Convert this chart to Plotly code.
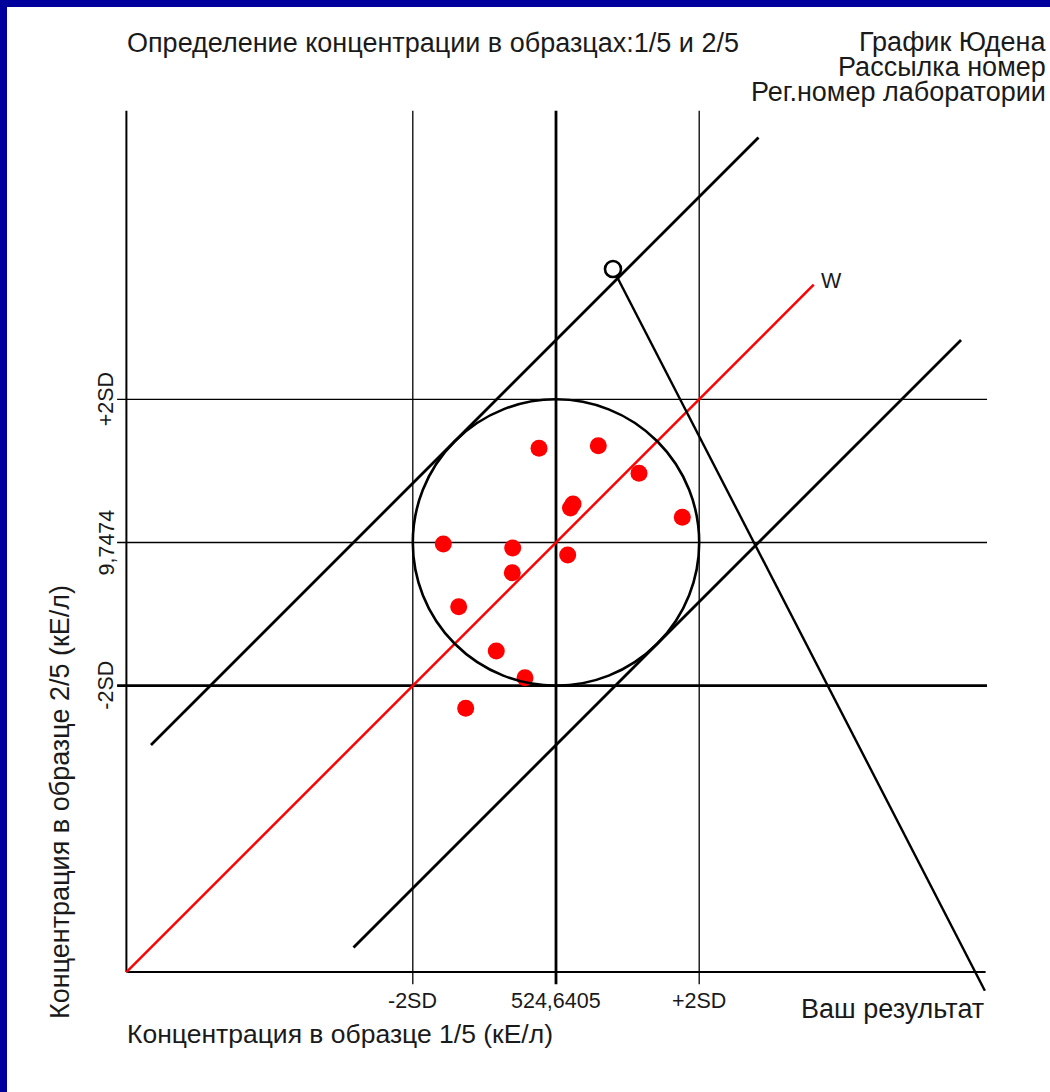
import math
import plotly.graph_objects as go

FIG_W, FIG_H = 1050, 1092

# Assigned values and standard deviations for the two samples (kE/l)
MEAN_X = 524.6405   # sample 1/5
MEAN_Y = 9.7474     # sample 2/5
SD_X = 25.0
SD_Y = 0.5

# Results of the participating laboratories (kE/l)
lab_x = [518.71, 539.41, 553.62, 530.58, 529.70, 568.74, 485.29,
         509.52, 528.73, 509.38, 490.67, 503.79, 513.82, 493.11]
lab_y = [10.405, 10.423, 10.231, 10.016, 9.988, 9.923, 9.737,
         9.709, 9.660, 9.536, 9.299, 8.990, 8.803, 8.590]

# Result of this laboratory
own_x = [544.54]
own_y = [11.657]

x_tick_text = ["-2SD", "524,6405", "+2SD"]
y_tick_text = ["-2SD", "9,7474", "+2SD"]
sd_levels = [-2, 0, 2]

# ---- layout helpers -------------------------------------------------------
PX_PER_SD = 71.6          # screen pixels per standard deviation
CX, CY = 556.0, 542.5     # screen position of the assigned values
AX_LO, AX_HI = -6.0, 6.03  # drawn axis extent, in SD


def gx(k):
    return MEAN_X + k * SD_X


def gy(k):
    return MEAN_Y + k * SD_Y


def px(x):
    return x / FIG_W


def py(y):
    return 1 - y / FIG_H


x_range = [gx((0 - CX) / PX_PER_SD), gx((FIG_W - CX) / PX_PER_SD)]
y_range = [gy((CY - FIG_H) / PX_PER_SD), gy(CY / PX_PER_SD)]

BLACK = "#000000"
TEXT = "#1a1a1a"
FONT = "Liberation Sans, Arial, sans-serif"
BIG = 27
SMALL = 21.5

fig = go.Figure()


def seg(xs, ys, width, color=BLACK):
    fig.add_trace(go.Scatter(x=xs, y=ys, mode="lines",
                             line=dict(color=color, width=width),
                             hoverinfo="skip", showlegend=False))


# axes
seg([gx(AX_LO), gx(AX_LO)], [gy(AX_LO), gy(AX_HI)], 2)
seg([gx(AX_LO), gx(6.0)], [gy(AX_LO), gy(AX_LO)], 2)

# mean and +/-2SD reference lines
for k in sd_levels:
    w_v = 2.8 if k == 0 else 1.3
    w_h = 2.8 if k == -2 else 1.3
    seg([gx(k), gx(k)], [gy(-6.17), gy(AX_HI)], w_v)
    seg([gx(-6.13), gx(6.02)], [gy(k), gy(k)], w_h)

# lines tangent to the 2SD circle, parallel to the diagonal
r2 = 2 * math.sqrt(2)
seg([gx(-2 * r2), gx(r2)], [gy(-2 * r2 + r2), gy(r2 + r2)], 2.8)
seg([gx(-r2), gx(2 * r2)], [gy(-r2 - r2), gy(2 * r2 - r2)], 2.8)

# diagonal W
W_END = 3.6
seg([gx(AX_LO), gx(W_END)], [gy(AX_LO), gy(W_END)], 2.5, "#ff0000")

# pointer from own result to the caption
seg([own_x[0], gx(5.99)], [own_y[0], gy(-6.26)], 2.4)

# 2SD circle
fig.add_shape(type="circle", xref="x", yref="y",
              x0=gx(-2), x1=gx(2), y0=gy(-2), y1=gy(2),
              line=dict(color=BLACK, width=2.6), layer="above")

# participants
fig.add_trace(go.Scatter(x=lab_x, y=lab_y, mode="markers",
                         marker=dict(color="#ff0000", size=17, line=dict(width=0)),
                         hoverinfo="x+y", showlegend=False))

# own result
fig.add_trace(go.Scatter(x=own_x, y=own_y, mode="markers",
                         marker=dict(color="white", size=16, symbol="circle",
                                     line=dict(color=BLACK, width=2.6)),
                         hoverinfo="x+y", showlegend=False))

# ---- text -----------------------------------------------------------------
ann = []


def text(s, x, y, size=BIG, xanchor="left", yanchor="middle", angle=0,
         xref="paper", yref="paper"):
    ann.append(dict(text=s, x=x, y=y, xref=xref, yref=yref, showarrow=False,
                    xanchor=xanchor, yanchor=yanchor, textangle=angle,
                    font=dict(family=FONT, size=size, color=TEXT)))


text("Определение концентрации в образцах:1/5 и 2/5", px(125), py(43))
text("График Юдена", px(1048), py(42), xanchor="right")
text("Рассылка номер", px(1048), py(67), xanchor="right")
text("Рег.номер лаборатории", px(1048), py(92), xanchor="right")

text("Концентрация в образце 1/5 (кЕ/л)", px(125), py(1034), size=26.5)
text("Концентрация в образце 2/5 (кЕ/л)", px(60), py(1021),
     xanchor="center", yanchor="bottom", angle=-90)
text("Ваш результат", px(799), py(1009))

for k, s in zip(sd_levels, x_tick_text):
    text(s, gx(k), py(1001), size=SMALL, xanchor="center", xref="x")
for k, s in zip(sd_levels, y_tick_text):
    text(s, px(106), gy(k), size=SMALL, xanchor="center", yanchor="middle",
         angle=-90, yref="y")

ann.append(dict(text="W", x=gx(W_END), y=gy(W_END), xref="x", yref="y",
                showarrow=False, xanchor="left", yanchor="middle",
                xshift=5, yshift=4,
                font=dict(family=FONT, size=SMALL, color=TEXT)))

# slide frame: blue page with a white sheet open to the right and bottom
FRAME = "#00009c"
fig.add_shape(type="rect", xref="paper", yref="paper",
              x0=px(7), x1=1.02, y0=-0.02, y1=py(7),
              fillcolor="white", line=dict(width=0), layer="below")

axis_common = dict(showgrid=False, zeroline=False, showticklabels=False,
                   showline=False, ticks="", fixedrange=True)
fig.update_layout(
    width=FIG_W, height=FIG_H, autosize=False,
    margin=dict(l=0, r=0, t=0, b=0, pad=0),
    paper_bgcolor=FRAME, plot_bgcolor="rgba(0,0,0,0)",
    xaxis=dict(range=x_range, **axis_common),
    yaxis=dict(range=y_range, **axis_common),
    annotations=ann,
    showlegend=False,
)

fig.write_html("out.html")
